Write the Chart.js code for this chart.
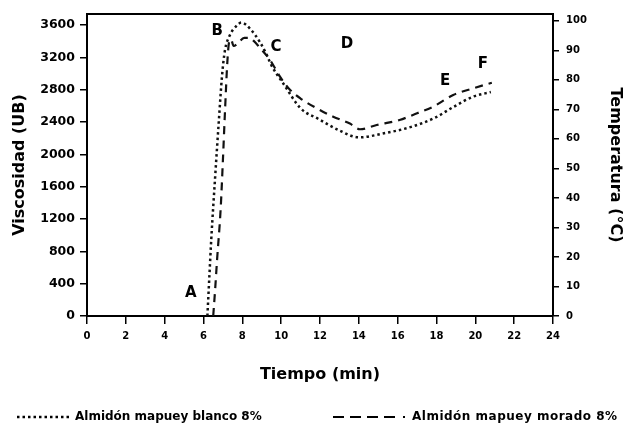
<!DOCTYPE html>
<html>
<head>
<meta charset="utf-8">
<script src="https://cdn.jsdelivr.net/npm/chart.js@4"></script>
<style>
  body { margin: 0; background: #fff; }
</style>
</head>
<body>
<canvas id="grafico" width="625" height="425"></canvas>
<script>
// Almidón mapuey blanco 8% (punteada)
const tiempoBlanco = [6.2, 6.3, 6.4, 6.6, 6.8, 6.95, 7.1, 7.35, 7.7, 7.95, 8.45, 8.9, 9.2, 9.5, 10.1, 11.0, 11.9, 13.0, 14.0, 15.3, 16.7, 17.9, 18.9, 19.9, 20.8];
const viscBlanco = [0, 480, 950, 1720, 2450, 2960, 3280, 3470, 3590, 3630, 3540, 3390, 3260, 3100, 2880, 2570, 2440, 2295, 2210, 2260, 2340, 2450, 2590, 2715, 2770];

// Almidón mapuey morado 8% (discontinua)
const tiempoMorado = [6.5, 6.6, 6.7, 6.88, 7.0, 7.11, 7.23, 7.32, 7.42, 7.55, 7.75, 8.1, 8.35, 8.6, 8.9, 9.42, 9.94, 10.45, 11.0, 11.83, 12.68, 13.54, 14.06, 14.92, 16.1, 17.0, 17.83, 18.86, 19.9, 20.85];
const viscMorado = [0, 330, 700, 1310, 1930, 2550, 3150, 3390, 3420, 3340, 3370, 3440, 3440, 3400, 3320, 3170, 2960, 2800, 2690, 2570, 2466, 2380, 2310, 2363, 2425, 2508, 2590, 2734, 2817, 2886];

// marcas de los ejes
const ticksTiempo = [0, 2, 4, 6, 8, 10, 12, 14, 16, 18, 20, 22, 24];
const ticksVisc = [0, 400, 800, 1200, 1600, 2000, 2400, 2800, 3200, 3600];
const ticksTemp = [0, 10, 20, 30, 40, 50, 60, 70, 80, 90, 100];

// letras de las etapas
const etiquetas = ['A', 'B', 'C', 'D', 'E', 'F'];
const etiquetaTiempo = [5.34, 6.7, 9.73, 13.39, 18.44, 20.39];
const etiquetaVisc = [281, 3526, 3332, 3365, 2907, 3118];

const nombres = ['Almidón mapuey blanco 8%', 'Almidón mapuey morado 8%'];

const fuente = 'DejaVu Sans';

const extras = {
  id: 'extras',
  afterDraw(chart) {
    const ctx = chart.ctx;
    const a = chart.chartArea;
    const sx = chart.scales.x, sy = chart.scales.y;
    ctx.save();
    // borde superior
    ctx.strokeStyle = '#000';
    ctx.lineWidth = 2;
    ctx.beginPath();
    ctx.moveTo(a.left - 1, a.top);
    ctx.lineTo(a.right + 1, a.top);
    ctx.stroke();

    // letras
    ctx.fillStyle = '#000';
    ctx.font = 'bold 15px "' + fuente + '"';
    ctx.textAlign = 'center';
    ctx.textBaseline = 'middle';
    etiquetas.forEach((l, i) => {
      ctx.fillText(l, sx.getPixelForValue(etiquetaTiempo[i]), sy.getPixelForValue(etiquetaVisc[i]));
    });

    // leyenda
    const yl = 417;
    ctx.font = 'bold 12px "' + fuente + '"';
    ctx.textAlign = 'left';
    ctx.lineWidth = 2.5;
    ctx.setLineDash([2.5, 3]);
    ctx.beginPath();
    ctx.moveTo(17, yl);
    ctx.lineTo(69, yl);
    ctx.stroke();
    ctx.fillText(nombres[0], 75, yl);

    ctx.setLineDash([]);
    ctx.lineWidth = 2;
    for (let k = 0; k < 4; k++) {
      ctx.beginPath();
      ctx.moveTo(333 + k * 17, yl);
      ctx.lineTo(344 + k * 17, yl);
      ctx.stroke();
    }
    ctx.fillRect(403, yl - 1, 2, 2);
    ctx.letterSpacing = '0.5px';
    ctx.fillText(nombres[1], 412, yl);
    ctx.restore();
  }
};

const sinFormato = v => String(v);

const ctx = document.getElementById('grafico').getContext('2d');

new Chart(ctx, {
  type: 'line',
  data: {
    datasets: [
      {
        label: nombres[0],
        data: tiempoBlanco.map((t, i) => ({ x: t, y: viscBlanco[i] })),
        borderColor: '#111',
        borderWidth: 2.5,
        borderDash: [2.5, 3],
        pointRadius: 0,
        cubicInterpolationMode: 'monotone',
        yAxisID: 'y'
      },
      {
        label: nombres[1],
        data: tiempoMorado.map((t, i) => ({ x: t, y: viscMorado[i] })),
        borderColor: '#111',
        borderWidth: 2.2,
        borderDash: [8, 6],
        pointRadius: 0,
        cubicInterpolationMode: 'monotone',
        yAxisID: 'y'
      }
    ]
  },
  options: {
    responsive: false,
    animation: false,
    devicePixelRatio: 1,
    layout: { padding: { top: 14, left: 0, right: 0, bottom: 0 } },
    plugins: {
      legend: { display: false },
      tooltip: { enabled: false }
    },
    scales: {
      x: {
        type: 'linear',
        min: 0,
        max: 24,
        ticks: { color: '#000', padding: 6, callback: sinFormato, font: { family: fuente, size: 10, weight: 'bold' } },
        afterBuildTicks: s => { s.ticks = ticksTiempo.map(v => ({ value: v })); },
        grid: { drawOnChartArea: false, color: '#000', lineWidth: 1.5, tickLength: 8 },
        border: { color: '#000', width: 2 },
        title: { display: true, text: 'Tiempo (min)', color: '#000', padding: { top: 0, bottom: 41 }, font: { family: fuente, size: 16, weight: 'bold' } },
        afterFit: s => { s.height = 109; }
      },
      y: {
        position: 'left',
        min: 0,
        max: 3736,
        ticks: { color: '#000', padding: 5, callback: sinFormato, font: { family: fuente, size: 12.5, weight: 'bold' } },
        afterBuildTicks: s => { s.ticks = ticksVisc.map(v => ({ value: v })); },
        grid: { drawOnChartArea: false, color: '#000', lineWidth: 1.5, tickLength: 7 },
        border: { color: '#000', width: 2 },
        title: { display: true, text: 'Viscosidad (UB)', color: '#000', padding: { top: 10, bottom: 0 }, font: { family: fuente, size: 16, weight: 'bold' } },
        afterFit: s => { s.width = 87; }
      },
      y1: {
        position: 'right',
        min: 0,
        max: 102.3,
        ticks: { color: '#000', padding: 7, callback: sinFormato, font: { family: fuente, size: 10, weight: 'bold' } },
        afterBuildTicks: s => { s.ticks = ticksTemp.map(v => ({ value: v })); },
        grid: { drawOnChartArea: false, color: '#000', lineWidth: 1.5, tickLength: 6 },
        border: { color: '#000', width: 2 },
        title: { display: true, text: 'Temperatura (°C)', color: '#000', padding: { top: 0, bottom: 0 }, font: { family: fuente, size: 16, weight: 'bold' } },
        afterFit: s => { s.width = 72; }
      }
    }
  },
  plugins: [extras]
});
</script>
</body>
</html>
